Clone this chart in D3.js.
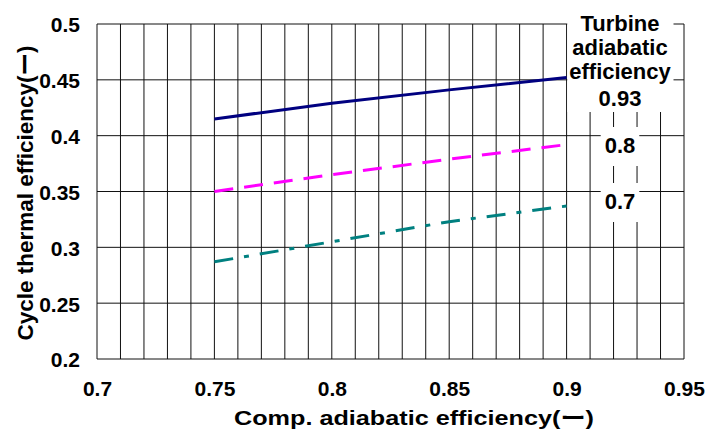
<!DOCTYPE html>
<html>
<head>
<meta charset="utf-8">
<script src="https://cdn.jsdelivr.net/npm/d3@7"></script>
<style>
  body { margin: 0; background: #fff; }
  text { font-family: "Liberation Sans", Arial, "Noto Sans CJK JP", sans-serif; font-weight: bold; fill: #000; }
</style>
</head>
<body>
<div id="chart"></div>
<script>
// compressor adiabatic efficiency (x) and cycle thermal efficiency per turbine efficiency
const compEff = [0.75, 0.8, 0.85, 0.9];
const turbineEff = ['0.93', '0.8', '0.7'];
const cycleEff093 = [0.415, 0.429, 0.441, 0.452];
const cycleEff080 = [0.35, 0.365, 0.379, 0.392];
const cycleEff070 = [0.287, 0.305, 0.323, 0.337];
const xTicks = [0.7, 0.75, 0.8, 0.85, 0.9, 0.95];
const yTicks = [0.2, 0.25, 0.3, 0.35, 0.4, 0.45, 0.5];
const legendTitle = ['Turbine', 'adiabatic', 'efficiency'];

const width = 706, height = 432;
const margin = { top: 24, right: 22, bottom: 73, left: 97 };
const w = width - margin.left - margin.right;
const h = height - margin.top - margin.bottom;

const svg = d3.select('#chart').append('svg')
  .attr('width', width)
  .attr('height', height);

const g = svg.append('g')
  .attr('transform', `translate(${margin.left},${margin.top})`);

const x = d3.scaleLinear().domain([0.7, 0.95]).range([0, w]);
const y = d3.scaleLinear().domain([0.2, 0.5]).range([h, 0]);

// grid: vertical every 0.01, horizontal every 0.05
const xGrid = d3.range(0, 26).map(i => 0.7 + i * 0.01);
g.append('g').selectAll('line')
  .data(xGrid)
  .enter().append('line')
  .attr('x1', d => x(d)).attr('x2', d => x(d))
  .attr('y1', 0).attr('y2', h)
  .attr('stroke', '#111').attr('stroke-width', 1);

g.append('g').selectAll('line')
  .data(yTicks)
  .enter().append('line')
  .attr('x1', 0).attr('x2', w)
  .attr('y1', d => y(d)).attr('y2', d => y(d))
  .attr('stroke', '#111').attr('stroke-width', 1);

// axes (labels only)
const xAxis = g.append('g')
  .attr('transform', `translate(0,${h})`)
  .call(d3.axisBottom(x).tickValues(xTicks).tickSize(0).tickPadding(0).tickFormat(d3.format('')));
xAxis.select('.domain').remove();
xAxis.selectAll('text')
  .attr('y', 37).attr('dy', null)
  .style('font-size', '21px');

const yAxis = g.append('g')
  .call(d3.axisLeft(y).tickValues(yTicks).tickSize(0).tickPadding(17).tickFormat(d3.format('')));
yAxis.select('.domain').remove();
yAxis.selectAll('text')
  .attr('dy', '0.38em')
  .style('font-size', '21px');
svg.selectAll('.tick text').attr('font-family', null).attr('font-size', null);

// series
const series = [
  { name: turbineEff[0], values: cycleEff093, color: '#000080', dash: null },
  { name: turbineEff[1], values: cycleEff080, color: '#ff00ff', dash: '19,11' },
  { name: turbineEff[2], values: cycleEff070, color: '#008080', dash: '19,11,5,11' }
];

const line = d3.line()
  .x((d, i) => x(compEff[i]))
  .y(d => y(d));

g.selectAll('.series')
  .data(series)
  .enter().append('path')
  .attr('class', 'series')
  .attr('d', d => line(d.values))
  .attr('fill', 'none')
  .attr('stroke', d => d.color)
  .attr('stroke-width', 3)
  .attr('stroke-dasharray', d => d.dash);

// labels with white boxes
const labelX = 620;
function boxedText(lines, ys, pad) {
  const grp = svg.append('g');
  const rect = grp.append('rect').attr('fill', '#fff');
  const t = grp.append('text')
    .attr('text-anchor', 'middle')
    .style('font-size', '22px');
  lines.forEach((s, i) => {
    t.append('tspan').attr('x', labelX).attr('y', ys[i]).text(s);
  });
  const bb = t.node().getBBox();
  rect.attr('x', bb.x - pad[0]).attr('y', bb.y - pad[1])
    .attr('width', bb.width + 2 * pad[0])
    .attr('height', bb.height + pad[1] + pad[2]);
}
boxedText(legendTitle.concat([turbineEff[0]]), [31, 55, 79, 106], [2, 20, 1]);
boxedText([turbineEff[1]], [153], [4, 6, 8]);
boxedText([turbineEff[2]], [209], [4, 6, 8]);

// axis titles
svg.append('text')
  .attr('x', 414).attr('y', 425)
  .attr('text-anchor', 'middle')
  .attr('textLength', 360)
  .attr('lengthAdjust', 'spacingAndGlyphs')
  .style('font-size', '21px')
  .text('Comp. adiabatic efficiency(ー)');

svg.append('text')
  .attr('transform', 'translate(33,193) rotate(-90)')
  .attr('text-anchor', 'middle')
  .attr('textLength', 295)
  .attr('lengthAdjust', 'spacingAndGlyphs')
  .style('font-size', '22px')
  .text('Cycle thermal efficiency(ー)');
</script>
</body>
</html>
